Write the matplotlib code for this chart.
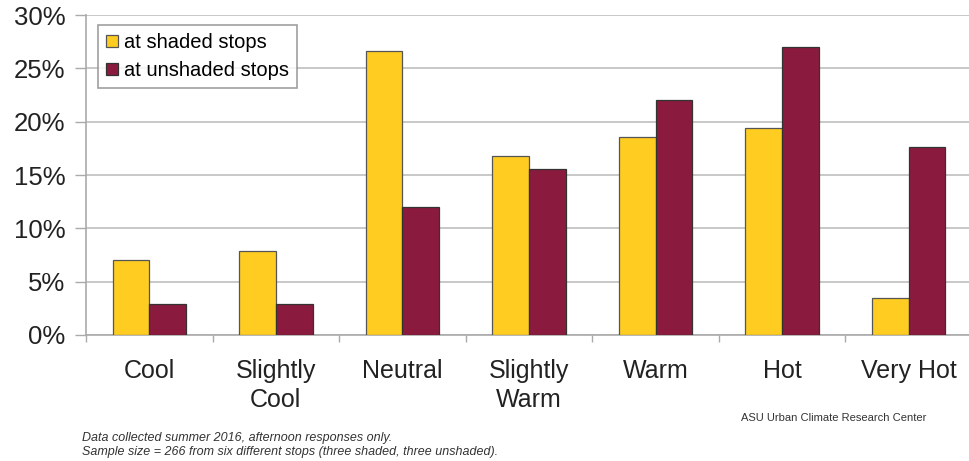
import matplotlib.pyplot as plt
import numpy as np

plt.rcParams['font.family'] = ['Liberation Sans', 'DejaVu Sans']

categories = ['Cool', 'Slightly\nCool', 'Neutral', 'Slightly\nWarm', 'Warm', 'Hot', 'Very Hot']
shaded = [7.0, 7.9, 26.6, 16.8, 18.6, 19.4, 3.5]
unshaded = [2.9, 2.9, 12.0, 15.6, 22.0, 27.0, 17.6]
yticks = [0, 5, 10, 15, 20, 25, 30]

gold = '#FFCC22'
maroon = '#8A1B3E'

fig = plt.figure(figsize=(9.7, 4.61), dpi=100)
ax = fig.add_axes([86 / 970, 1 - 335 / 461, 1 - 86 / 970 + 0.002, (335 - 15) / 461])

x = np.arange(len(categories))
w = 0.29
ax.bar(x - w / 2, shaded, w, color=gold, edgecolor='#555555', linewidth=0.9,
       label='at shaded stops', zorder=3)
ax.bar(x + w / 2, unshaded, w, color=maroon, edgecolor='#333333', linewidth=0.9,
       label='at unshaded stops', zorder=3)

ax.set_xlim(-0.5, len(categories) - 0.5)
ax.set_ylim(0, 30)
ax.set_yticks(yticks)
ax.set_yticklabels([f'{t}%' for t in yticks], fontsize=18.5, color='#222222')
ax.set_xticks(x)
ax.set_xticklabels(categories, fontsize=18, color='#222222', linespacing=1.28)
ax.set_xticks(np.arange(len(categories) + 1) - 0.5, minor=True)
ax.tick_params(axis='x', which='major', length=0, pad=17)
ax.tick_params(axis='x', which='minor', length=5, color='#aaaaaa', width=1)
ax.tick_params(axis='y', length=8, color='#aaaaaa', width=1, pad=7)

ax.grid(axis='y', color='#c4c4c4', linewidth=1.3, zorder=0)
for s in ['top', 'right']:
    ax.spines[s].set_visible(False)
for s in ['left', 'bottom']:
    ax.spines[s].set_color('#aaaaaa')
    ax.spines[s].set_linewidth(1.2)

leg = ax.legend(loc='upper left', bbox_to_anchor=(0.014, 0.968), fontsize=14.5,
                frameon=True, fancybox=False, edgecolor='#888888',
                handlelength=0.55, handleheight=0.55, handletextpad=0.3,
                borderpad=0.4, labelspacing=0.42, borderaxespad=0)
leg.get_frame().set_linewidth(1.2)

fig.text(82 / 970, 1 - 438 / 461, 'Data collected summer 2016, afternoon responses only.',
         fontsize=9, style='italic', color='#333333', va='center')
fig.text(82 / 970, 1 - 452 / 461,
         'Sample size = 266 from six different stops (three shaded, three unshaded).',
         fontsize=9, style='italic', color='#333333', va='center')
fig.text(741 / 970, 1 - 418 / 461, 'ASU Urban Climate Research Center',
         fontsize=8, color='#333333', va='center')

fig.savefig('out.png', dpi=100)
